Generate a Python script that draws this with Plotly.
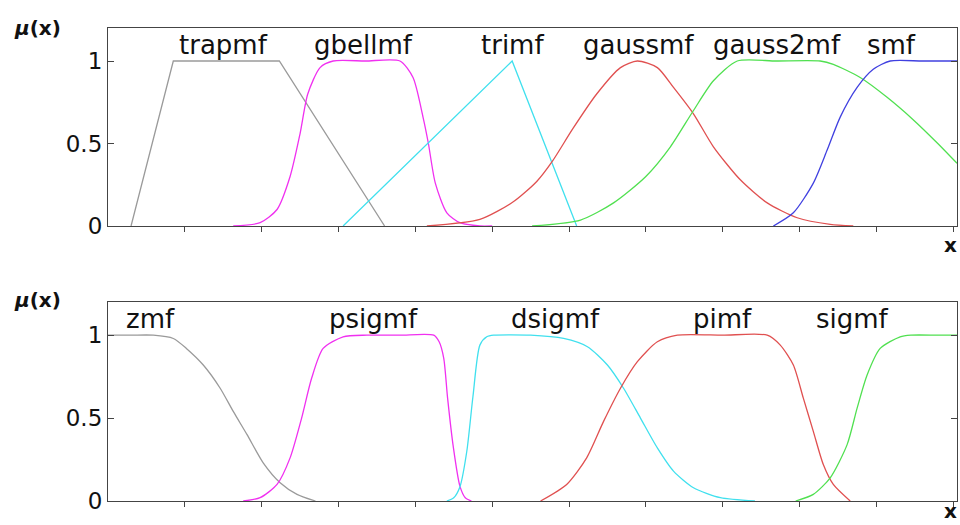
import plotly.graph_objects as go

# ---------------- top panel data ----------------
trap_x = [0.3, 0.85, 2.23, 3.6]
trap_y = [0, 1, 1, 0]

gbell_x = [1.63, 1.98, 2.2, 2.37, 2.5, 2.6, 2.76, 2.93, 3.35, 3.8, 3.97, 4.1, 4.17, 4.26, 4.41, 4.58, 4.84, 5.0]
gbell_y = [0, 0.02, 0.1, 0.3, 0.56, 0.8, 0.96, 1, 1, 1, 0.9, 0.66, 0.5, 0.26, 0.08, 0.02, 0.0, 0]

tri_x = [3.06, 5.26, 6.1]
tri_y = [0, 1, 0]

gauss_x = [4.15, 4.84, 5.27, 5.58, 5.78, 6.05, 6.36, 6.67, 6.89, 7.15, 7.36, 7.62, 7.88, 8.23, 8.58, 8.97, 9.4, 9.7]
gauss_y = [0, 0.04, 0.145, 0.27, 0.39, 0.59, 0.8, 0.96, 1, 0.96, 0.84, 0.68, 0.48, 0.28, 0.14, 0.05, 0.01, 0]

g2_x = [5.52, 6.15, 6.58, 7.0, 7.32, 7.62, 7.88, 8.19, 8.7, 9.27, 9.44, 9.79, 10.14, 10.49, 10.8, 11.05]
g2_y = [0, 0.036, 0.14, 0.3, 0.48, 0.7, 0.88, 1, 1, 1, 0.98, 0.9, 0.78, 0.64, 0.5, 0.38]

smf_x = [8.66, 8.92, 9.18, 9.36, 9.53, 9.75, 9.96, 10.18, 10.6, 11.05]
smf_y = [0, 0.08, 0.26, 0.46, 0.66, 0.84, 0.95, 1, 1, 1]

# ---------------- bottom panel data ----------------
zmf_x = [0, 0.3, 0.59, 0.85, 1.02, 1.24, 1.46, 1.63, 1.81, 2.02, 2.24, 2.46, 2.7]
zmf_y = [1, 1, 1, 0.98, 0.92, 0.82, 0.68, 0.54, 0.4, 0.23, 0.11, 0.04, 0]

psig_x = [1.76, 1.98, 2.2, 2.37, 2.52, 2.65, 2.8, 3.06, 3.37, 3.8, 4.24, 4.31, 4.37, 4.42, 4.49, 4.58, 4.65, 4.73]
psig_y = [0, 0.02, 0.1, 0.26, 0.5, 0.74, 0.92, 0.99, 1, 1, 1, 0.96, 0.86, 0.62, 0.34, 0.09, 0.02, 0]

dsig_x = [4.41, 4.5, 4.58, 4.67, 4.75, 4.84, 4.93, 5.02, 5.5, 5.93, 6.24, 6.5, 6.71, 6.93, 7.15, 7.36, 7.62, 7.97, 8.42]
dsig_y = [0, 0.02, 0.085, 0.3, 0.63, 0.94, 0.99, 1, 1, 0.98, 0.93, 0.82, 0.68, 0.5, 0.32, 0.18, 0.08, 0.02, 0]

pimf_x = [5.63, 5.97, 6.23, 6.45, 6.67, 6.89, 7.15, 7.41, 8.0, 8.58, 8.75, 8.92, 9.05, 9.18, 9.31, 9.44, 9.66]
pimf_y = [0, 0.1, 0.26, 0.48, 0.68, 0.84, 0.96, 1, 1, 1, 0.94, 0.82, 0.62, 0.42, 0.22, 0.1, 0]

sig_x = [8.95, 9.18, 9.4, 9.62, 9.75, 9.88, 10.05, 10.31, 10.45, 10.8, 11.05]
sig_y = [0, 0.04, 0.14, 0.34, 0.56, 0.76, 0.92, 0.99, 1, 1, 1]

top_labels = ["trapmf", "gbellmf", "trimf", "gaussmf", "gauss2mf", "smf"]
top_label_x = [1.5, 3.32, 5.26, 6.9, 8.71, 10.2]
bot_labels = ["zmf", "psigmf", "dsigmf", "pimf", "sigmf"]
bot_label_x = [0.55, 3.46, 5.82, 8.0, 9.69]

y_ticks = [0, 0.5, 1]
y_tick_text = ["0", "0.5", "1"]
x_ticks = [1, 2, 3, 4, 5, 6, 7, 8, 9, 10, 11]

GREY = "#9a9a9a"
MAG = "#f030f0"
CYAN = "#40e0ee"
RED = "#e05050"
GREEN = "#50e050"
BLUE = "#4040e0"

fig = go.Figure()

def add(x, y, color, ax, shape):
    fig.add_trace(go.Scatter(
        x=x, y=y, mode="lines",
        line=dict(color=color, width=1.3, shape=shape, smoothing=0.7),
        xaxis="x" if ax == 1 else "x2", yaxis="y" if ax == 1 else "y2",
        showlegend=False, hoverinfo="skip"))

add(trap_x, trap_y, GREY, 1, "linear")
add(gbell_x, gbell_y, MAG, 1, "spline")
add(tri_x, tri_y, CYAN, 1, "linear")
add(gauss_x, gauss_y, RED, 1, "spline")
add(g2_x, g2_y, GREEN, 1, "spline")
add(smf_x, smf_y, BLUE, 1, "spline")

add(zmf_x, zmf_y, GREY, 2, "spline")
add(psig_x, psig_y, MAG, 2, "spline")
add(dsig_x, dsig_y, CYAN, 2, "spline")
add(pimf_x, pimf_y, RED, 2, "spline")
add(sig_x, sig_y, GREEN, 2, "spline")

AX = "#444444"
FONT = "DejaVu Sans"

xcommon = dict(range=[0, 11.05], showgrid=False, zeroline=False,
               showline=True, linecolor=AX, linewidth=1.2, mirror=True,
               ticks="outside", ticklen=5, tickcolor=AX, tickwidth=1.2,
               tickvals=x_ticks, showticklabels=False, fixedrange=True)
ycommon = dict(range=[0, 1.2], showgrid=False, zeroline=False,
               showline=True, linecolor=AX, linewidth=1.2, mirror="ticks",
               ticks="inside", ticklen=6, tickcolor=AX, tickwidth=1.2,
               tickvals=y_ticks, ticktext=y_tick_text,
               tickfont=dict(family=FONT, size=23, color="#111111"),
               fixedrange=True)

annotations = []
for t, xv in zip(top_labels, top_label_x):
    annotations.append(dict(x=xv, y=1.10, xref="x", yref="y", text=t, showarrow=False,
                            font=dict(family=FONT, size=26, color="#111111"),
                            xanchor="center", yanchor="middle"))
for t, xv in zip(bot_labels, bot_label_x):
    annotations.append(dict(x=xv, y=1.10, xref="x2", yref="y2", text=t, showarrow=False,
                            font=dict(family=FONT, size=26, color="#111111"),
                            xanchor="center", yanchor="middle"))

H = 473.0
def py(pix):
    return (501 - pix) / H
def pxp(pix):
    return (pix - 108) / 849.0

for ypix in [28, 300]:
    annotations.append(dict(x=pxp(37), y=py(ypix), xref="paper", yref="paper",
                            text="<b><i>μ</i>(x)</b>", showarrow=False,
                            font=dict(family=FONT, size=20, color="#111111"),
                            xanchor="center", yanchor="middle"))
annotations.append(dict(x=pxp(950), y=py(245), xref="paper", yref="paper",
                        text="<b>x</b>", showarrow=False,
                        font=dict(family=FONT, size=20, color="#111111"),
                        xanchor="center", yanchor="middle"))
annotations.append(dict(x=pxp(950), y=py(524), xref="paper", yref="paper",
                        text="<b>x</b>", showarrow=False,
                        font=dict(family=FONT, size=20, color="#111111"),
                        xanchor="center", yanchor="bottom", borderpad=0))

fig.update_layout(
    width=960, height=525,
    margin=dict(l=108, r=3, t=28, b=24),
    paper_bgcolor="white", plot_bgcolor="white",
    xaxis=dict(xcommon, anchor="y", domain=[0, 1]),
    yaxis=dict(ycommon, anchor="x", domain=[(501 - 226) / H, 1]),
    xaxis2=dict(xcommon, anchor="y2", domain=[0, 1]),
    yaxis2=dict(ycommon, anchor="x2", domain=[0, (501 - 302) / H]),
    annotations=annotations,
)

fig.write_html("out.html",
               config={"displayModeBar": False},
               post_script="document.body.style.margin='0';document.body.style.overflow='hidden';")
